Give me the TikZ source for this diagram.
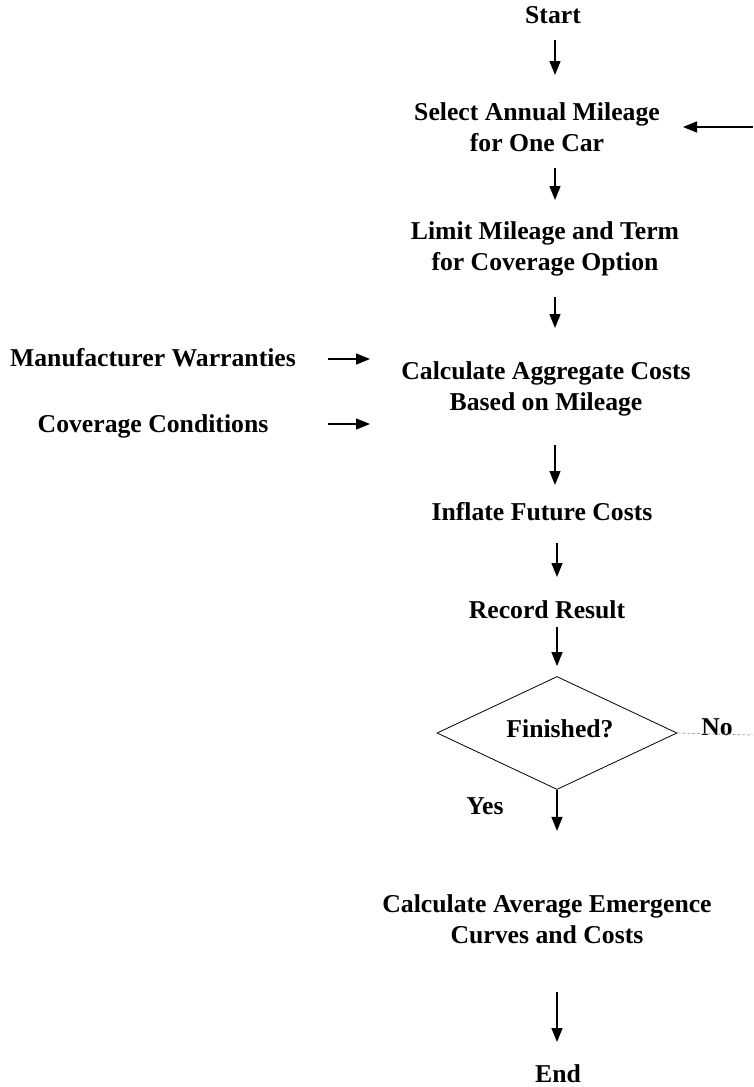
\documentclass[tikz,border=0pt]{standalone}
\usepackage{fontspec}
\setmainfont{Liberation Serif}
\usetikzlibrary{arrows.meta,shapes.geometric,calc}

\tikzset{
  lbl/.style={inner sep=0pt, align=center,
    font=\fontsize{25.7pt}{31pt}\selectfont\bfseries},
  arr/.style={line width=1.3pt, -{Triangle[length=14pt,width=11pt]}},
  decision/.style={diamond, draw, line width=0.8pt, inner sep=0pt,
    minimum width=240pt, minimum height=113pt, aspect=2.1},
  noline/.style={line width=0.8pt, gray!70, dash pattern=on 3pt off 2pt}
}

\begin{document}
\begin{tikzpicture}[x=1pt,y=-1pt]
  \useasboundingbox (0,0) rectangle (753,1087);

  % main column
  \node[lbl] (start)  at (553,15)  {Start};
  \node[lbl] (select) at (537,127) {Select Annual Mileage\\for One Car};
  \node[lbl] (limit)  at (545,249) {Limit Mileage and Term\\for Coverage Option};
  \node[lbl] (calc)   at (546,389) {Calculate Aggregate Costs\\Based on Mileage};
  \node[lbl] (infl)   at (542,512) {Inflate Future Costs};
  \node[lbl] (rec)    at (547,610) {Record Result};
  \node[decision] (fin) at (557,733) {};
  \node[lbl] (fintxt) at (560,729) {Finished?};
  \node[lbl] (no)     at (717,727) {No};
  \node[lbl] (yes)    at (485,806) {Yes};
  \node[lbl] (avg)    at (547,919) {Calculate Average Emergence\\Curves and Costs};
  \node[lbl] (stop)   at (558,1074) {End};

  % inputs on the left
  \node[lbl] (warr) at (153,358) {Manufacturer Warranties};
  \node[lbl] (cond) at (153,426) {Coverage Conditions};

  % loop-back end points
  \coordinate (loopin) at (753,127);
  \coordinate (loopout) at (753,735);

  % flow arrows
  \draw[arr] ($(start.center)+(2,25)$) -- ($(select.center)+(18,-52)$);
  \draw[arr] ($(select.center)+(18,41)$) -- ($(limit.center)+(10,-49)$);
  \draw[arr] ($(limit.center)+(10,48)$) -- ($(calc.center)+(9,-61)$);
  \draw[arr] ($(calc.center)+(9,56)$) -- ($(infl.center)+(13,-27)$);
  \draw[arr] ($(infl.center)+(15,31)$) -- ($(rec.center)+(10,-33)$);
  \draw[arr] ($(rec.center)+(10,17)$) -- ($(fin.north)+(0,-10)$);
  \draw[arr] (fin.south) -- ($(fin.south)+(0,41)$);
  \draw[arr] ($(avg.center)+(10,73)$) -- ($(stop.center)+(-1,-32)$);

  % side arrows
  \draw[arr] ($(warr.center)+(175,1)$) -- ($(warr.center)+(217,1)$);
  \draw[arr] ($(cond.center)+(175,-2)$) -- ($(cond.center)+(217,-2)$);
  \draw[arr] (loopin) -- ($(loopin)+(-70,0)$);
  \draw[noline] (fin.east) -- (loopout);
\end{tikzpicture}
\end{document}
